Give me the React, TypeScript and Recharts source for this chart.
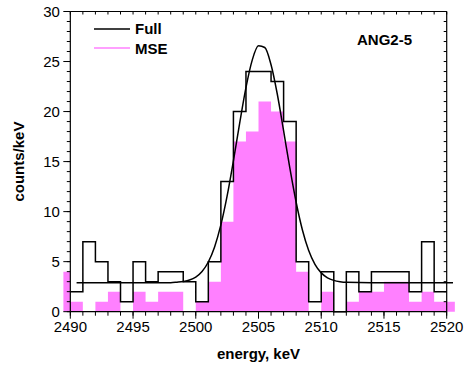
import React from 'react';
import { ComposedChart, Line, Area, XAxis, YAxis, Legend } from 'recharts';

// ---- data ----
const BIN_EDGES = [
  2490, 2491, 2492, 2493, 2494, 2495, 2496, 2497, 2498, 2499,
  2500, 2501, 2502, 2503, 2504, 2505, 2506, 2507, 2508, 2509,
  2510, 2511, 2512, 2513, 2514, 2515, 2516, 2517, 2518, 2519, 2520,
];
const FULL_COUNTS = [2, 7, 5, 3, 1, 5, 3, 4, 4, 3, 1, 5, 13, 20, 24, 24, 23, 19, 5, 1, 4, 0, 4, 2, 4, 4, 4, 2, 7, 2];
const MSE_COUNTS = [1, 0, 1, 2, 0, 2, 1, 2, 2, 0, 1, 3, 9, 17, 18, 21, 20, 17, 4, 0, 2, 0, 1, 2, 2, 3, 3, 1, 2, 1];
const MSE_LOW_EDGE = 2489.45;
const MSE_LOW_COUNT = 4;
const MSE_HIGH_EDGE = 2520.65;
const MSE_HIGH_COUNT = 1;

const FIT_ENERGY = [
  2490.5, 2496, 2498, 2498.5, 2499, 2499.5, 2500, 2500.5, 2501, 2501.5,
  2502, 2502.5, 2503, 2503.5, 2504, 2504.5, 2505, 2505.5, 2506, 2506.5,
  2507, 2507.5, 2508, 2508.5, 2509, 2509.5, 2510, 2510.5, 2511, 2511.5,
  2512, 2514, 2520.5,
];
const FIT_COUNTS = [
  2.9, 2.9, 2.9, 2.95, 3.02, 3.16, 3.46, 4.02, 4.97, 6.47,
  8.67, 11.57, 15.08, 18.85, 22.39, 25.14, 26.57, 26.4, 24.68, 21.73,
  18.09, 14.34, 10.94, 8.17, 6.12, 4.74, 3.88, 3.39, 3.13, 3.0,
  2.94, 2.9, 2.9,
];

const X_MAJOR_TICKS = [2490, 2495, 2500, 2505, 2510, 2515, 2520];
const X_MINOR_TICKS = BIN_EDGES;
const Y_MAJOR_TICKS = [0, 5, 10, 15, 20, 25, 30];
const Y_MINOR_TICKS = [
  0, 1, 2, 3, 4, 5, 6, 7, 8, 9, 10, 11, 12, 13, 14, 15,
  16, 17, 18, 19, 20, 21, 22, 23, 24, 25, 26, 27, 28, 29, 30,
];
const SERIES_NAMES = ['Full', 'MSE'];
const SERIES_COLORS = ['#000000', '#FF80FF'];
const PANEL_LABEL = 'ANG2-5';
const X_TITLE = 'energy, keV';
const Y_TITLE = 'counts/keV';

// ---- derived tables ----
const fullData = BIN_EDGES.map((e, i) => ({ e, v: FULL_COUNTS[Math.min(i, FULL_COUNTS.length - 1)] }));
const mseData = [
  { e: MSE_LOW_EDGE, c: MSE_LOW_COUNT },
  ...BIN_EDGES.map((e, i) => ({ e, c: i < MSE_COUNTS.length ? MSE_COUNTS[i] : MSE_HIGH_COUNT })),
  { e: MSE_HIGH_EDGE, c: MSE_HIGH_COUNT },
];
const fitData = FIT_ENERGY.map((e, i) => ({ e, v: FIT_COUNTS[i] }));

// ---- layout ----
const W = 464;
const H = 371;
const FONT = '"Liberation Sans", Arial, Helvetica, sans-serif';
const TOP = 11.5;
const BOTTOM = 59.3;
const X_LEFT_PX = 70.3;
const X_RIGHT_PX = 446.7;
const PX_PER_KEV = (X_RIGHT_PX - X_LEFT_PX) / 30;
const B_DOMAIN: [number, number] = [2489, 2521];
const THIN = 0.01; // near-zero axis box size so axes do not shift the plot

const emptyTick = () => <g />;
const axisStroke = '#000';

const renderLegend = () => (
  <div style={{ fontFamily: FONT, fontWeight: 'bold', fontSize: 15, color: '#000' }}>
    {SERIES_NAMES.map((name, i) => (
      <div key={name} style={{ display: 'flex', alignItems: 'center', height: 19.3 }}>
        <svg width={36} height={4} style={{ display: 'block' }}>
          <line x1={0} x2={36} y1={2} y2={2} stroke={SERIES_COLORS[i]} strokeWidth={1.5} />
        </svg>
        <span style={{ marginLeft: 5, lineHeight: '19.3px' }}>{name}</span>
      </div>
    ))}
  </div>
);

export default function App() {
  return (
    <div style={{ position: 'absolute', left: 0, top: 0, width: W, height: H, background: '#fff' }}>
      {/* Back layer: MSE histogram (overflows the frame) + fit curve */}
      <div style={{ position: 'absolute', left: 0, top: 0 }}>
        <ComposedChart
          width={W}
          height={H}
          margin={{
            top: TOP,
            bottom: BOTTOM,
            left: X_LEFT_PX - (2490 - B_DOMAIN[0]) * PX_PER_KEV,
            right: W - (X_RIGHT_PX + (B_DOMAIN[1] - 2520) * PX_PER_KEV),
          }}
        >
          <XAxis type="number" dataKey="e" domain={B_DOMAIN} allowDataOverflow hide height={0} />
          <YAxis type="number" domain={[0, 30]} allowDataOverflow={false} hide width={0} />
          <Area
            data={mseData}
            type="stepAfter"
            dataKey="c"
            fill={SERIES_COLORS[1]}
            fillOpacity={1}
            stroke="none"
            isAnimationActive={false}
          />
          <Line
            data={fitData}
            type="monotone"
            dataKey="v"
            stroke="#000"
            strokeWidth={1.5}
            dot={false}
            isAnimationActive={false}
          />
        </ComposedChart>
      </div>

      {/* Front layer: frame, axes, Full histogram, legend */}
      <div style={{ position: 'absolute', left: 0, top: 0 }}>
        <ComposedChart
          width={W}
          height={H}
          data={fullData}
          margin={{ top: TOP, bottom: BOTTOM, left: X_LEFT_PX, right: W - X_RIGHT_PX }}
        >
          <XAxis
            xAxisId="xMinor"
            type="number"
            dataKey="e"
            domain={[2490, 2520]}
            allowDataOverflow
            ticks={X_MINOR_TICKS}
            interval={0}
            tickSize={4}
            tick={emptyTick}
            axisLine={false}
            stroke={axisStroke}
            height={THIN}
          />
          <XAxis
            xAxisId="xMajor"
            type="number"
            dataKey="e"
            domain={[2490, 2520]}
            ticks={X_MAJOR_TICKS}
            interval={0}
            tickSize={7}
            tickMargin={3}
            stroke={axisStroke}
            axisLine={{ stroke: axisStroke, strokeWidth: 1.2 }}
            tick={{ fontSize: 15, fill: '#000', fontFamily: FONT }}
            height={THIN}
            label={{
              value: X_TITLE,
              position: 'bottom',
              offset: 37,
              fill: '#000',
              style: { fontSize: 15, fontWeight: 'bold', fill: '#000', fontFamily: FONT },
            }}
          />
          <XAxis
            xAxisId="xTop"
            orientation="top"
            mirror
            type="number"
            dataKey="e"
            domain={[2490, 2520]}
            allowDataOverflow
            ticks={X_MINOR_TICKS}
            interval={0}
            tickSize={3}
            tick={emptyTick}
            stroke={axisStroke}
            axisLine={{ stroke: axisStroke, strokeWidth: 1.2 }}
            height={THIN}
          />
          <YAxis
            yAxisId="yMinor"
            type="number"
            domain={[0, 30]}
            allowDataOverflow
            ticks={Y_MINOR_TICKS}
            interval={0}
            tickSize={3.5}
            tick={emptyTick}
            axisLine={false}
            stroke={axisStroke}
            width={THIN}
          />
          <YAxis
            yAxisId="yMajor"
            type="number"
            domain={[0, 30]}
            ticks={Y_MAJOR_TICKS}
            interval={0}
            tickSize={7}
            tickMargin={3.5}
            stroke={axisStroke}
            axisLine={{ stroke: axisStroke, strokeWidth: 1.2 }}
            tick={{ fontSize: 15, fill: '#000', fontFamily: FONT }}
            width={THIN}
            label={{
              value: Y_TITLE,
              angle: -90,
              position: 'left',
              offset: 51.5,
              fill: '#000',
              style: { fontSize: 15, fontWeight: 'bold', fill: '#000', fontFamily: FONT, textAnchor: 'middle' },
            }}
          />
          <YAxis
            yAxisId="yRight"
            orientation="right"
            mirror
            type="number"
            domain={[0, 30]}
            allowDataOverflow
            ticks={Y_MINOR_TICKS}
            interval={0}
            tickSize={3}
            tick={emptyTick}
            stroke={axisStroke}
            axisLine={{ stroke: axisStroke, strokeWidth: 1.2 }}
            width={THIN}
          />
          <Line
            xAxisId="xMajor"
            yAxisId="yMajor"
            type="stepAfter"
            dataKey="v"
            name={SERIES_NAMES[0]}
            stroke={SERIES_COLORS[0]}
            strokeWidth={1.5}
            dot={false}
            isAnimationActive={false}
          />
          <Legend
            layout="vertical"
            align="center"
            verticalAlign="middle"
            content={renderLegend}
            wrapperStyle={{ left: 94, top: 19.35, width: 110, height: 40, bottom: 'auto', right: 'auto' }}
          />
        </ComposedChart>
      </div>

      <div
        style={{
          position: 'absolute',
          left: 357,
          top: 32,
          fontFamily: FONT,
          fontWeight: 'bold',
          fontSize: 15,
          lineHeight: '15px',
          color: '#000',
          whiteSpace: 'nowrap',
        }}
      >
        {PANEL_LABEL}
      </div>
    </div>
  );
}
